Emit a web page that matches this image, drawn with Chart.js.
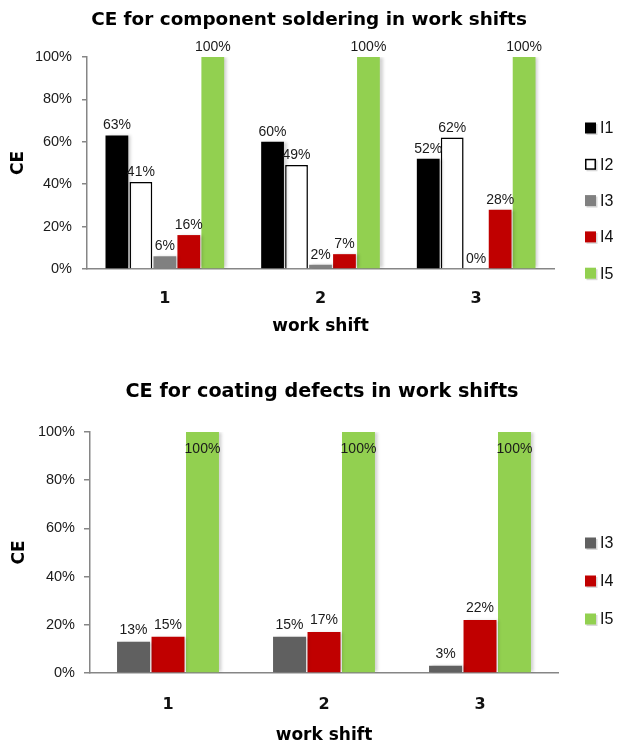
<!DOCTYPE html>
<html>
<head>
<meta charset="utf-8">
<script src="https://cdn.jsdelivr.net/npm/chart.js@4.4.0/dist/chart.umd.min.js"></script>
<style>
  html, body { margin: 0; padding: 0; background: #fff; overflow: hidden; }
  #wrap { position: relative; width: 627px; height: 746px; }
  .box { position: absolute; left: 0; width: 627px; }
  #top { top: 0; height: 345px; }
  #bottom { top: 352px; height: 394px; }
</style>
</head>
<body>
<div id="wrap">
  <div class="box" id="top"><canvas id="chartTop"></canvas></div>
  <div class="box" id="bottom"><canvas id="chartBottom"></canvas></div>
</div>
<script>
"use strict";

const shifts = ['1', '2', '3'];
const yTicks = [0, 20, 40, 60, 80, 100];

// CE for component soldering (%)
const solderI1 = [63, 60, 52];
const solderI2 = [41, 49, 62];
const solderI3 = [6, 2, 0];
const solderI4 = [16, 7, 28];
const solderI5 = [100, 100, 100];

// CE for coating defects (%)
const coatI3 = [13, 15, 3];
const coatI4 = [15, 17, 22];
const coatI5 = [100, 100, 100];

const BOLD = '"DejaVu Sans", Arial, sans-serif';
const PLAIN = '"Liberation Sans", Arial, sans-serif';

// chart title, drawn so it can sit off the chart-area centre like the original
const chartTitle = {
    id: 'chartTitle',
    afterDraw(chart, args, opts) {
        const ctx = chart.ctx;
        ctx.save();
        ctx.font = 'bold ' + opts.size + 'px ' + BOLD;
        ctx.fillStyle = '#000';
        ctx.textAlign = 'center';
        ctx.textBaseline = 'alphabetic';
        ctx.fillText(opts.text, opts.x, opts.y);
        ctx.restore();
    }
};

// soft shadow behind the bars, like the excel original
const barShadow = {
    id: 'barShadow',
    beforeDatasetsDraw(chart) {
        const ctx = chart.ctx;
        ctx.save();
        ctx.shadowColor = 'rgba(0,0,0,0.18)';
        ctx.shadowBlur = 3;
        ctx.shadowOffsetX = 3;
        ctx.shadowOffsetY = 0;
    },
    afterDatasetsDraw(chart) {
        chart.ctx.restore();
    }
};

// value labels above the bars (or inside for the full ones)
const valueLabels = {
    id: 'valueLabels',
    afterDraw(chart, args, opts) {
        const ctx = chart.ctx;
        ctx.save();
        ctx.font = '14px ' + PLAIN;
        ctx.fillStyle = '#1a1a1a';
        ctx.textAlign = 'center';
        ctx.textBaseline = 'alphabetic';
        chart.data.datasets.forEach((ds, i) => {
            chart.getDatasetMeta(i).data.forEach((bar, j) => {
                const v = ds.data[j];
                let y = bar.y - opts.gap;
                if (opts.insideAt !== undefined && v >= opts.insideAt) y = bar.y + opts.insideGap;
                ctx.fillText(v + '%', bar.x, y);
            });
        });
        ctx.restore();
    }
};

// legend drawn on the right
const sideLegend = {
    id: 'sideLegend',
    afterDraw(chart, args, opts) {
        const ctx = chart.ctx;
        ctx.save();
        chart.data.datasets.forEach((ds, i) => {
            const y = opts.y + i * opts.gap;
            ctx.fillStyle = 'rgba(0,0,0,0.15)';
            ctx.fillRect(opts.x + 1.5, y - 4, 11, 11);
            ctx.fillStyle = ds.backgroundColor;
            ctx.fillRect(opts.x, y - 5.5, 11, 11);
            if (ds.borderWidth) {
                ctx.strokeStyle = ds.borderColor;
                ctx.lineWidth = 1.5;
                ctx.strokeRect(opts.x + 0.75, y - 4.75, 9.5, 9.5);
            }
            ctx.fillStyle = '#111';
            ctx.font = '16px ' + PLAIN;
            ctx.textAlign = 'left';
            ctx.textBaseline = 'middle';
            ctx.fillText(ds.label, opts.x + 15, y + 1);
        });
        ctx.restore();
    }
};

function makeOptions(cfg) {
    return {
        responsive: true,
        maintainAspectRatio: false,
        animation: false,
        layout: { padding: cfg.padding },
        plugins: {
            legend: { display: false },
            title: { display: false },
            tooltip: { enabled: false },
            chartTitle: cfg.title,
            valueLabels: cfg.labels,
            sideLegend: cfg.legend
        },
        scales: {
            x: {
                grid: { display: false },
                border: { color: '#868686', width: 1.5 },
                ticks: { color: '#111', padding: cfg.xPad, font: { family: BOLD, size: 16, weight: 'bold' } },
                title: {
                    display: true, text: 'work shift', color: '#000',
                    font: { family: BOLD, size: 17, weight: 'bold', lineHeight: 1.2 },
                    padding: { top: 0, bottom: 0 }
                },
                afterFit: s => { s.height = cfg.xHeight; }
            },
            y: {
                min: 0,
                max: 100,
                grid: { drawOnChartArea: false, drawTicks: true, tickLength: cfg.tickLen, color: '#868686', lineWidth: 1.5 },
                border: { color: '#868686', width: 1.5 },
                ticks: {
                    color: '#1a1a1a', padding: cfg.yPad,
                    font: { family: PLAIN, size: 14.5 },
                    callback: v => v + '%'
                },
                afterBuildTicks: s => { s.ticks = yTicks.map(v => ({ value: v })); },
                title: {
                    display: true, text: 'CE', color: '#000',
                    font: { family: BOLD, size: 17, weight: 'bold', lineHeight: 1.2 },
                    padding: { top: cfg.yTitlePad, bottom: 0 }
                },
                afterFit: s => { s.width = cfg.yWidth; }
            }
        }
    };
}

new Chart(document.getElementById('chartTop').getContext('2d'), {
    type: 'bar',
    data: {
        labels: shifts,
        datasets: [
            { label: 'I1', data: solderI1, backgroundColor: '#000000', borderWidth: 0 },
            { label: 'I2', data: solderI2, backgroundColor: '#ffffff', borderColor: '#000000', borderWidth: 1.5 },
            { label: 'I3', data: solderI3, backgroundColor: '#808080', borderWidth: 0 },
            { label: 'I4', data: solderI4, backgroundColor: '#c00000', borderWidth: 0 },
            { label: 'I5', data: solderI5, backgroundColor: '#92d050', borderWidth: 0 }
        ].map(d => Object.assign(d, { categoryPercentage: 0.77, barPercentage: 0.95 }))
    },
    options: makeOptions({
        title: { text: 'CE for component soldering in work shifts', size: 18.4, x: 309, y: 25 },
        padding: { left: 0, right: 73, top: 57, bottom: 8 },
        xHeight: 68, xPad: 12.5,
        yWidth: 87, tickLen: 5, yPad: 10, yTitlePad: 8.8,
        labels: { gap: 6 },
        legend: { x: 585, y: 128, gap: 36.3 }
    }),
    plugins: [barShadow, chartTitle, valueLabels, sideLegend]
});

new Chart(document.getElementById('chartBottom').getContext('2d'), {
    type: 'bar',
    data: {
        labels: shifts,
        datasets: [
            { label: 'I3', data: coatI3, backgroundColor: '#606060', borderWidth: 0 },
            { label: 'I4', data: coatI4, backgroundColor: '#c00000', borderWidth: 0 },
            { label: 'I5', data: coatI5, backgroundColor: '#92d050', borderWidth: 0 }
        ].map(d => Object.assign(d, { categoryPercentage: 0.663, barPercentage: 0.956 }))
    },
    options: makeOptions({
        title: { text: 'CE for coating defects in work shifts', size: 19.2, x: 322, y: 45 },
        padding: { left: 0, right: 69, top: 80, bottom: 0 },
        xHeight: 73, xPad: 14.5,
        yWidth: 90, tickLen: 6, yPad: 9, yTitlePad: 9.8,
        labels: { gap: 8, insideAt: 100, insideGap: 21 },
        legend: { x: 585, y: 191, gap: 38 }
    }),
    plugins: [barShadow, chartTitle, valueLabels, sideLegend]
});
</script>
</body>
</html>
